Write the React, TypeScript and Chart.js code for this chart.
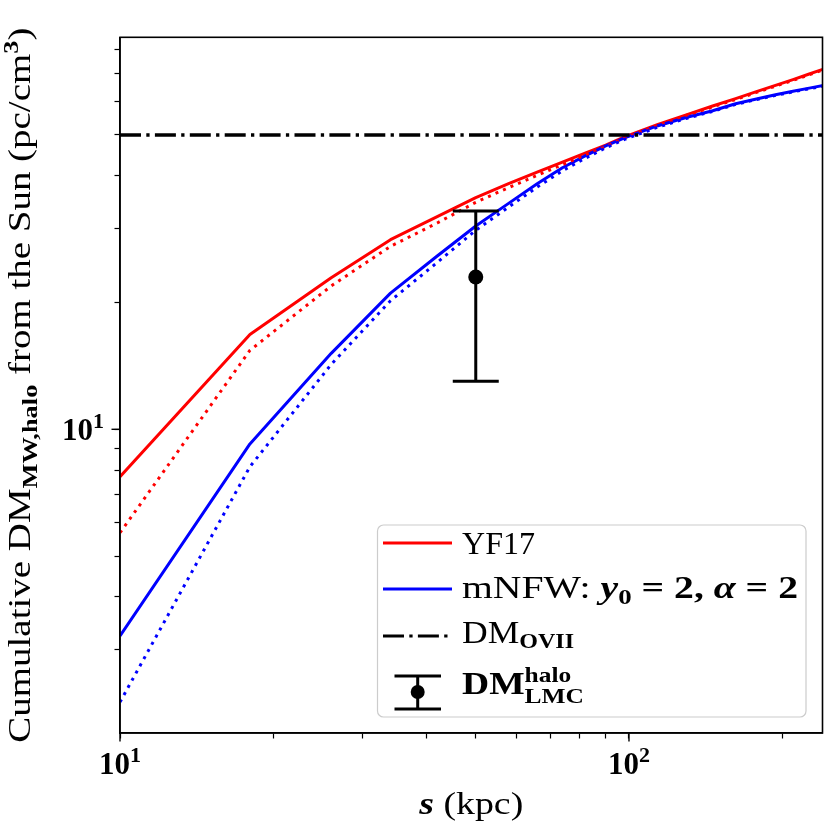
import { useEffect, useRef } from 'react';
import { Chart, registerables, type ChartConfiguration, type Plugin } from 'chart.js';

Chart.register(...registerables);

// distance from the Sun, kpc
const sKpc = [10, 18, 26, 34, 42, 50, 58, 66, 74, 82, 90, 98, 114, 130, 146, 162, 178, 194, 210, 226, 242];
// cumulative DM (pc/cm^3)
const yf17 = [7.72, 16.8, 22.9, 28.2, 32.0, 35.5, 38.3, 40.8, 43.1, 45.3, 47.3, 49.5, 53.0, 55.9, 58.6, 61.0, 63.4, 65.6, 67.7, 69.8, 71.8];
const yf17Dotted = [5.68, 15.4, 21.9, 27.2, 30.9, 34.6, 37.5, 40.1, 42.5, 44.8, 46.9, 49.2, 52.7, 55.7, 58.3, 60.7, 63.1, 65.3, 67.4, 69.5, 71.5];
const mnfw = [3.23, 9.23, 15.15, 21.06, 25.8, 30.4, 34.4, 38.3, 41.8, 44.6, 47.1, 49.2, 52.6, 55.1, 57.1, 59.3, 60.9, 62.3, 63.5, 64.6, 65.6];
const mnfwDotted = [2.25, 8.15, 14.26, 20.2, 24.9, 29.7, 33.7, 37.6, 41.1, 44.0, 46.6, 48.8, 52.2, 54.8, 56.9, 59.1, 60.7, 62.1, 63.3, 64.4, 65.4];
const oviiDM = 50;
const oviiSpan = [10, 240];
const lmcS = [50];
const lmcDM = [23];
const lmcLow = [13];
const lmcHigh = [33];
const xMajor = [10, 100];
const yMajor = [10];

const SERIF = "'Liberation Serif', 'DejaVu Serif', serif";

type Seg = { t: string; size: number; bold?: boolean; italic?: boolean; dy?: number; stay?: boolean };

const fontOf = (s: Seg) => `${s.italic ? 'italic ' : ''}${s.bold ? 'bold ' : ''}${s.size}px ${SERIF}`;

function richWidth(ctx: CanvasRenderingContext2D, segs: Seg[]) {
  let w = 0;
  let held = 0;
  for (const s of segs) {
    ctx.font = fontOf(s);
    const m = ctx.measureText(s.t).width;
    if (s.stay) { held = m; continue; }
    w += Math.max(m, held);
    held = 0;
  }
  return w;
}

// draw mixed-size text (sub/superscripts) from x, optionally stretched to a width
function drawRich(ctx: CanvasRenderingContext2D, segs: Seg[], x: number, y: number, align: 'left' | 'center' | 'right', target?: number) {
  const natural = richWidth(ctx, segs);
  const w = target ?? natural;
  const sx = w / natural;
  const x0 = align === 'center' ? x - w / 2 : align === 'right' ? x - w : x;
  ctx.save();
  ctx.translate(x0, y);
  ctx.scale(sx, 1);
  ctx.textAlign = 'left';
  ctx.textBaseline = 'alphabetic';
  ctx.fillStyle = '#000';
  let cx = 0;
  let held = 0;
  for (const s of segs) {
    ctx.font = fontOf(s);
    ctx.fillText(s.t, cx, s.dy ?? 0);
    const m = ctx.measureText(s.t).width;
    if (s.stay) { held = m; continue; }
    cx += Math.max(m, held);
    held = 0;
  }
  ctx.restore();
}

const isNiceTick = (v: number) => {
  const m = v / Math.pow(10, Math.floor(Math.log10(v) + 1e-9));
  return Math.abs(m - Math.round(m)) < 1e-6;
};

const pts = (ys: number[]) => sKpc.map((s, i) => ({ x: s, y: ys[i] }));

const decor: Plugin<'line'> = {
  id: 'decor',
  afterDatasetsDraw(chart) {
    const { ctx } = chart;
    const xs = chart.scales.x;
    const ys = chart.scales.y;
    ctx.save();
    ctx.strokeStyle = '#000';
    ctx.lineWidth = 3;
    lmcS.forEach((s, i) => {
      const px = xs.getPixelForValue(s);
      const lo = ys.getPixelForValue(lmcLow[i]);
      const hi = ys.getPixelForValue(lmcHigh[i]);
      ctx.beginPath();
      ctx.moveTo(px, lo); ctx.lineTo(px, hi);
      ctx.moveTo(px - 23, lo); ctx.lineTo(px + 23, lo);
      ctx.moveTo(px - 23, hi); ctx.lineTo(px + 23, hi);
      ctx.stroke();
    });
    ctx.restore();
  },
  afterDraw(chart) {
    const { ctx, chartArea: a } = chart;
    const xs = chart.scales.x;
    const ys = chart.scales.y;
    ctx.save();
    // frame
    ctx.strokeStyle = '#000';
    ctx.lineWidth = 1.6;
    ctx.strokeRect(a.left, a.top, a.right - a.left, a.bottom - a.top);
    // longer major ticks + labels
    ctx.lineWidth = 1.4;
    for (const v of yMajor) {
      const py = ys.getPixelForValue(v);
      ctx.beginPath(); ctx.moveTo(a.left - 8.5, py); ctx.lineTo(a.left, py); ctx.stroke();
      const e = String(Math.round(Math.log10(v)));
      drawRich(ctx, [{ t: '10', size: 31, bold: true }, { t: e, size: 22, bold: true, dy: -12 }], a.left - 16, py + 11, 'right');
    }
    for (const v of xMajor) {
      const px = xs.getPixelForValue(v);
      ctx.beginPath(); ctx.moveTo(px, a.bottom); ctx.lineTo(px, a.bottom + 8.5); ctx.stroke();
      const e = String(Math.round(Math.log10(v)));
      drawRich(ctx, [{ t: '10', size: 31, bold: true }, { t: e, size: 22, bold: true, dy: -12 }], px, a.bottom + 41, 'center');
    }
    // axis titles
    drawRich(ctx, [{ t: 's', size: 31, bold: true, italic: true }, { t: ' (kpc)', size: 31 }], (a.left + a.right) / 2, 814, 'center', 104);
    ctx.save();
    ctx.translate(30, (a.top + a.bottom) / 2);
    ctx.rotate(-Math.PI / 2);
    drawRich(ctx, [
      { t: 'Cumulative DM', size: 31 },
      { t: 'MW,halo', size: 21, bold: true, dy: 7 },
      { t: ' from the Sun (pc/cm', size: 31 },
      { t: '3', size: 21, bold: true, dy: -12 },
      { t: ')', size: 31 },
    ], 0, 0, 'center', 715);
    ctx.restore();

    // legend
    const bx = 377.5, by = 525, bw = 428.5, bh = 192;
    ctx.beginPath();
    ctx.roundRect(bx, by, bw, bh, 6);
    ctx.fillStyle = 'rgba(255,255,255,0.8)';
    ctx.fill();
    ctx.strokeStyle = '#cccccc';
    ctx.lineWidth = 1.2;
    ctx.stroke();

    const hx0 = 383, hx1 = 452, tx = 462;
    const handle = (y: number, color: string, dash: number[]) => {
      ctx.save();
      ctx.strokeStyle = color;
      ctx.lineWidth = 3;
      ctx.setLineDash(dash);
      ctx.beginPath(); ctx.moveTo(hx0, y); ctx.lineTo(hx1, y); ctx.stroke();
      ctx.restore();
    };
    handle(543, '#ff0000', []);
    drawRich(ctx, [{ t: 'YF17', size: 31 }], tx, 554, 'left', 73);
    handle(589, '#0000ff', []);
    drawRich(ctx, [
      { t: 'mNFW: ', size: 31 },
      { t: 'y', size: 31, bold: true, italic: true },
      { t: '0', size: 21, bold: true, dy: 6 },
      { t: ' = 2, ', size: 31, bold: true },
      { t: 'α', size: 31, bold: true, italic: true },
      { t: ' = 2', size: 31, bold: true },
    ], tx, 598, 'left', 336);
    handle(636, '#000000', [21, 5.3, 3.3, 5.3]);
    drawRich(ctx, [{ t: 'DM', size: 31 }, { t: 'OVII', size: 21, bold: true, dy: 5 }], tx, 643, 'left', 112);
    // errorbar handle
    ctx.strokeStyle = '#000';
    ctx.lineWidth = 3;
    ctx.beginPath();
    ctx.moveTo(417.7, 676); ctx.lineTo(417.7, 709);
    ctx.moveTo(394.5, 676); ctx.lineTo(441, 676);
    ctx.moveTo(394.5, 709); ctx.lineTo(441, 709);
    ctx.stroke();
    ctx.fillStyle = '#000';
    ctx.beginPath(); ctx.arc(417.7, 692, 7, 0, Math.PI * 2); ctx.fill();
    drawRich(ctx, [
      { t: 'DM', size: 31, bold: true },
      { t: 'halo', size: 21, bold: true, dy: -12, stay: true },
      { t: 'LMC', size: 21, bold: true, dy: 9 },
    ], tx, 694, 'left', 122);
    ctx.restore();
  },
};

const axisCommon = {
  type: 'logarithmic' as const,
  ticks: { display: false },
  grid: { drawOnChartArea: false, drawTicks: true, tickLength: 5.5, tickColor: '#000', tickWidth: 1.2 },
  border: { display: true, color: '#000', width: 1.6 },
  afterBuildTicks: (scale: any) => { scale.ticks = scale.ticks.filter((t: any) => isNiceTick(t.value)); },
};

function makeConfig(): ChartConfiguration<'line'> {
  return {
    type: 'line',
    data: {
      datasets: [
        {
          label: 'DM_LMC', data: lmcS.map((s, i) => ({ x: s, y: lmcDM[i] })), showLine: false,
          pointRadius: 7.5, pointBackgroundColor: '#000', pointBorderWidth: 0, borderColor: '#000',
        },
        {
          label: 'DM_OVII', data: oviiSpan.map((s) => ({ x: s, y: oviiDM })), borderColor: '#000',
          borderWidth: 3.3, borderDash: [21, 5.3, 3.3, 5.3], pointRadius: 0,
        },
        { label: 'mNFW dotted', data: pts(mnfwDotted), borderColor: '#0000ff', borderWidth: 3, borderDash: [3, 5.2], pointRadius: 0 },
        { label: 'YF17 dotted', data: pts(yf17Dotted), borderColor: '#ff0000', borderWidth: 3, borderDash: [3, 5.2], pointRadius: 0 },
        { label: 'mNFW', data: pts(mnfw), borderColor: '#0000ff', borderWidth: 3, pointRadius: 0, borderJoinStyle: 'round' },
        { label: 'YF17', data: pts(yf17), borderColor: '#ff0000', borderWidth: 3, pointRadius: 0, borderJoinStyle: 'round' },
      ],
    },
    options: {
      responsive: false,
      animation: false,
      layout: { padding: { top: 37.3, right: 7.5, left: 0, bottom: 0 } },
      plugins: { legend: { display: false }, tooltip: { enabled: false }, title: { display: false } },
      scales: {
        x: { ...axisCommon, position: 'bottom', min: 10, max: 240, afterFit: (s: any) => { s.height = 97; } },
        y: { ...axisCommon, position: 'left', min: 1.9, max: 85.3, afterFit: (s: any) => { s.width = 120; } },
      },
    },
    plugins: [decor],
  };
}

export default function App() {
  const canvas = useRef<HTMLCanvasElement>(null);
  useEffect(() => {
    if (!canvas.current) return;
    const chart = new Chart(canvas.current, makeConfig());
    return () => chart.destroy();
  }, []);
  return (
    <div style={{ position: 'absolute', left: 0, top: 0, width: 830, height: 830, background: '#fff' }}>
      <canvas ref={canvas} width={830} height={830} style={{ display: 'block' }} />
    </div>
  );
}
